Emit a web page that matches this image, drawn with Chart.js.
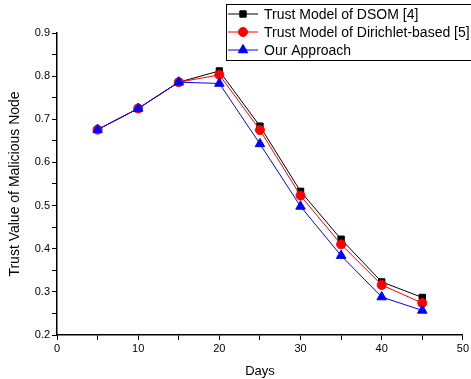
<!DOCTYPE html>
<html>
<head>
<meta charset="utf-8">
<script src="https://cdn.jsdelivr.net/npm/chart.js@4.4.1/dist/chart.umd.min.js"></script>
<style>
  html, body { margin: 0; padding: 0; background: #fff; }
  #wrap { width: 471px; height: 379px; }
</style>
</head>
<body>
<div id="wrap"><canvas id="chart" width="471" height="379"></canvas></div>
<script>
// Daten
const days = [5, 10, 15, 20, 25, 30, 35, 40, 45];
const dsomValues = [0.676, 0.725, 0.786, 0.812, 0.684, 0.533, 0.422, 0.323, 0.287];
const dirichletValues = [0.676, 0.725, 0.786, 0.803, 0.675, 0.523, 0.410, 0.316, 0.274];
const ourValues = [0.676, 0.725, 0.786, 0.783, 0.643, 0.498, 0.384, 0.288, 0.257];
const seriesLabels = ['Trust Model of DSOM [4]', 'Trust Model of Dirichlet-based [5]', 'Our Approach'];

const FONT = 'Arial, "Liberation Sans", sans-serif';

function toPoints(values) {
    return values.map((v, i) => ({ x: days[i], y: v }));
}

// Legende als Kasten oben rechts zeichnen
const boxLegend = {
    id: 'boxLegend',
    afterDraw(chart) {
        const ctx = chart.ctx;
        const x0 = 226, y0 = 4, w = 250, rowH = 18;
        ctx.save();
        ctx.fillStyle = '#fff';
        ctx.fillRect(x0, y0, w, rowH * 3 + 2);
        ctx.strokeStyle = '#000';
        ctx.lineWidth = 1;
        ctx.strokeRect(x0 + 0.5, y0 + 0.5, w, rowH * 3 + 2);
        chart.data.datasets.forEach((ds, row) => {
            const cy = y0 + 10 + row * rowH;
            ctx.strokeStyle = ds.borderColor;
            ctx.lineWidth = 1;
            ctx.beginPath();
            ctx.moveTo(x0 + 2, cy);
            ctx.lineTo(x0 + 32, cy);
            ctx.stroke();
            ctx.fillStyle = ds.backgroundColor;
            Chart.helpers.drawPoint(ctx, {
                pointStyle: ds.pointStyle,
                radius: ds.pointRadius,
                borderWidth: 1
            }, x0 + 17, cy);
            ctx.fillStyle = '#000';
            ctx.font = '14px ' + FONT;
            ctx.textBaseline = 'middle';
            ctx.textAlign = 'left';
            ctx.fillText(ds.label, x0 + 38, cy + 1);
        });
        ctx.restore();
    }
};

function makeDataset(label, values, color, style, radius, order) {
    return {
        label: label,
        data: toPoints(values),
        showLine: true,
        borderColor: color,
        backgroundColor: color,
        borderWidth: 1,
        pointStyle: style,
        pointRadius: radius,
        pointBorderWidth: 1,
        pointBorderColor: color,
        pointBackgroundColor: color,
        order: order,
        tension: 0
    };
}

new Chart(document.getElementById('chart'), {
    type: 'scatter',
    data: {
        datasets: [
            makeDataset(seriesLabels[0], dsomValues, '#000000', 'rect', 4.5, 2),
            makeDataset(seriesLabels[1], dirichletValues, '#ff0000', 'circle', 4.5, 1),
            makeDataset(seriesLabels[2], ourValues, '#0000ff', 'triangle', 5.5, 0)
        ]
    },
    options: {
        responsive: false,
        animation: false,
        layout: { padding: { top: 33, right: 8, left: 0, bottom: 0 } },
        plugins: {
            legend: { display: false },
            tooltip: { enabled: false }
        },
        scales: {
            x: {
                type: 'linear',
                min: 0,
                max: 50,
                afterFit: s => { s.height = 44; },
                ticks: {
                    stepSize: 5,
                    autoSkip: false,
                    maxRotation: 0,
                    padding: 2,
                    color: '#000',
                    font: { family: FONT, size: 11 },
                    callback: v => (v % 10 === 0 ? v : '')
                },
                grid: {
                    drawOnChartArea: false,
                    tickLength: 5,
                    color: '#000',
                    tickColor: '#000'
                },
                border: { color: '#000', width: 1.5 },
                title: {
                    display: true,
                    text: 'Days',
                    color: '#000',
                    font: { family: FONT, size: 13 },
                    padding: { top: 3, bottom: 0 }
                }
            },
            y: {
                type: 'linear',
                min: 0.2,
                max: 0.9,
                afterFit: s => { s.width = 57; },
                ticks: {
                    stepSize: 0.05,
                    autoSkip: false,
                    padding: 2,
                    color: '#000',
                    font: { family: FONT, size: 11 },
                    callback: v => {
                        const r = Math.round(v * 100);
                        return r % 10 === 0 ? (r / 100).toFixed(1) : '';
                    }
                },
                grid: {
                    drawOnChartArea: false,
                    tickLength: 5,
                    color: '#000',
                    tickColor: '#000'
                },
                border: { color: '#000', width: 1.5 },
                title: {
                    display: true,
                    text: 'Trust Value of Malicious Node',
                    color: '#000',
                    font: { family: FONT, size: 14 },
                    padding: { top: 7, bottom: 0 }
                }
            }
        }
    },
    plugins: [boxLegend]
});
</script>
</body>
</html>
